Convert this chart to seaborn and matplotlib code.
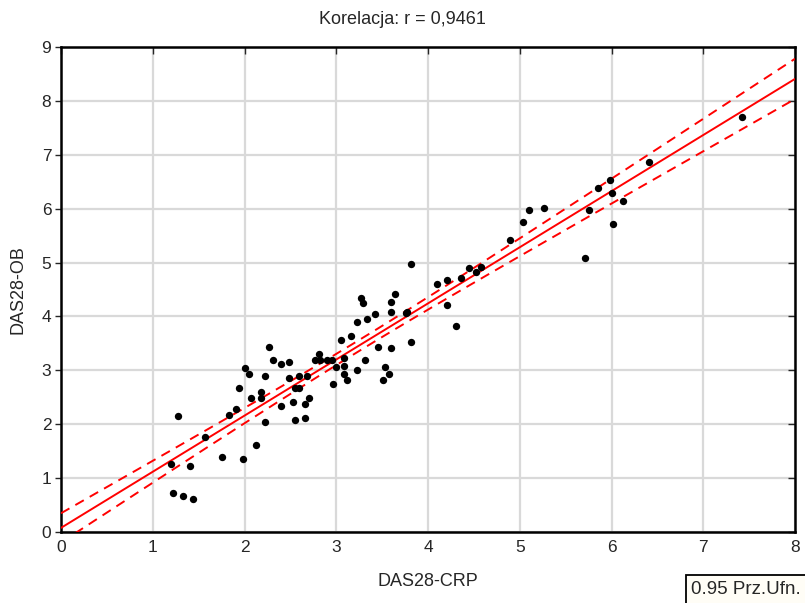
import numpy as np
import pandas as pd
import matplotlib
matplotlib.use("Agg")
import matplotlib.pyplot as plt
from matplotlib.patches import Rectangle
import seaborn as sns
from scipy import stats

# DAS28 scores per patient
das28_crp = [1.22, 1.33, 1.44, 1.20, 1.28, 1.41, 1.57, 1.76, 1.83, 1.91,
             1.94, 1.98, 2.01, 2.05, 2.07, 2.13, 2.18, 2.18, 2.22, 2.22,
             2.27, 2.31, 2.40, 2.40, 2.48, 2.48, 2.53, 2.55, 2.55, 2.59,
             2.59, 2.66, 2.66, 2.68, 2.70, 2.77, 2.81, 2.82, 2.90, 2.95,
             2.97, 3.00, 3.05, 3.08, 3.08, 3.08, 3.12, 3.16, 3.23, 3.23,
             3.27, 3.29, 3.31, 3.34, 3.42, 3.45, 3.51, 3.53, 3.58, 3.60,
             3.60, 3.60, 3.64, 3.76, 3.77, 3.81, 3.81, 4.10, 4.21, 4.21,
             4.30, 4.36, 4.45, 4.52, 4.58, 4.89, 5.04, 5.10, 5.26, 5.71,
             5.76, 5.85, 5.98, 6.00, 6.02, 6.13, 6.41, 7.42]
das28_ob = [0.73, 0.66, 0.62, 1.26, 2.15, 1.22, 1.77, 1.40, 2.18, 2.29,
            2.67, 1.36, 3.04, 2.93, 2.48, 1.62, 2.59, 2.48, 2.89, 2.04,
            3.44, 3.19, 3.11, 2.33, 3.15, 2.85, 2.41, 2.67, 2.07, 2.89,
            2.67, 2.37, 2.11, 2.89, 2.48, 3.19, 3.30, 3.19, 3.19, 3.19,
            2.74, 3.07, 3.56, 3.23, 3.08, 2.93, 2.82, 3.63, 3.89, 3.01,
            4.34, 4.25, 3.19, 3.96, 4.04, 3.44, 2.82, 3.07, 2.93, 4.26,
            4.08, 3.41, 4.41, 4.07, 4.09, 4.97, 3.52, 4.60, 4.67, 4.22,
            3.82, 4.71, 4.89, 4.82, 4.92, 5.41, 5.75, 5.97, 6.01, 5.08,
            5.97, 6.38, 6.53, 6.30, 5.71, 6.15, 6.86, 7.71]

x_ticks = list(range(0, 9))
y_ticks = list(range(0, 10))

df = pd.DataFrame({"DAS28-CRP": das28_crp, "DAS28-OB": das28_ob})

# Least-squares fit with 95% confidence band for the mean
x = df["DAS28-CRP"].to_numpy()
y = df["DAS28-OB"].to_numpy()
n = len(x)
slope, intercept = np.polyfit(x, y, 1)
resid = y - (intercept + slope * x)
s = np.sqrt(np.sum(resid ** 2) / (n - 2))
t = stats.t.ppf(0.975, n - 2)
xs = np.unique(np.concatenate([[0.0], np.sort(x), [8.0]]))
fit = intercept + slope * xs
half = t * s * np.sqrt(1 / n + (xs - x.mean()) ** 2 / np.sum((x - x.mean()) ** 2))
band = pd.DataFrame({"x": xs, "fit": fit, "lo": fit - half, "hi": fit + half})

sns.set_style("white")
plt.rcParams["font.family"] = ["Liberation Sans", "DejaVu Sans"]

W, H = 805, 603
fig = plt.figure(figsize=(W / 100, H / 100), dpi=100)
ax = fig.add_axes([61 / W, 1 - 532 / H, (795 - 61) / W, (532 - 47) / H])

ax.grid(True, color="#d9d9d9", linewidth=1.6, zorder=0)
ax.set_axisbelow(True)

sns.lineplot(data=band, x="x", y="fit", ax=ax, color="red", linewidth=1.4,
             estimator=None, sort=True, zorder=3)
sns.lineplot(data=band, x="x", y="hi", ax=ax, color="red", linewidth=1.4,
             estimator=None, sort=True, zorder=3).lines[-1].set_dashes([5, 3.5])
sns.lineplot(data=band, x="x", y="lo", ax=ax, color="red", linewidth=1.4,
             estimator=None, sort=True, zorder=3).lines[-1].set_dashes([5, 3.5])
sns.scatterplot(data=df, x="DAS28-CRP", y="DAS28-OB", ax=ax, color="black",
                s=28, edgecolor="black", linewidth=0, zorder=4)

ax.set_xlim(0, 8)
ax.set_ylim(0, 9)
ax.set_xticks(x_ticks)
ax.set_yticks(y_ticks)
ax.set_xticklabels([str(v) for v in x_ticks], fontsize=12.5)
ax.set_yticklabels([str(v) for v in y_ticks], fontsize=12.5)
ax.tick_params(axis="x", bottom=False, top=True, direction="in", length=5,
               width=1, pad=6, labelbottom=True)
ax.tick_params(axis="y", left=True, right=True, direction="out", length=4,
               width=1, pad=3)
for tk in ax.yaxis.get_major_ticks():
    tk.tick2line.set_marker(matplotlib.lines.TICKLEFT)
    tk.tick2line.set_markersize(5)

for side in ax.spines.values():
    side.set_visible(True)
    side.set_color("black")
    side.set_linewidth(1.8)

ax.set_xlabel("DAS28-CRP", fontsize=13, labelpad=13)
ax.set_ylabel("DAS28-OB", fontsize=13, labelpad=11)
fig.text(0.5, 1 - 20 / H, "Korelacja: r = 0,9461", fontsize=13,
         ha="center", va="center")

# confidence-level note in the lower right corner
fig.add_artist(Rectangle((686 / W, -0.01), (W + 10 - 686) / W,
                         (H - 575) / H + 0.01, transform=fig.transFigure,
                         facecolor="#fffdf6", edgecolor="black",
                         linewidth=1.3))
fig.text(691 / W, 1 - 590 / H, "0.95 Prz.Ufn.", fontsize=13.5,
         ha="left", va="center")

fig.savefig("out.png", dpi=100)
